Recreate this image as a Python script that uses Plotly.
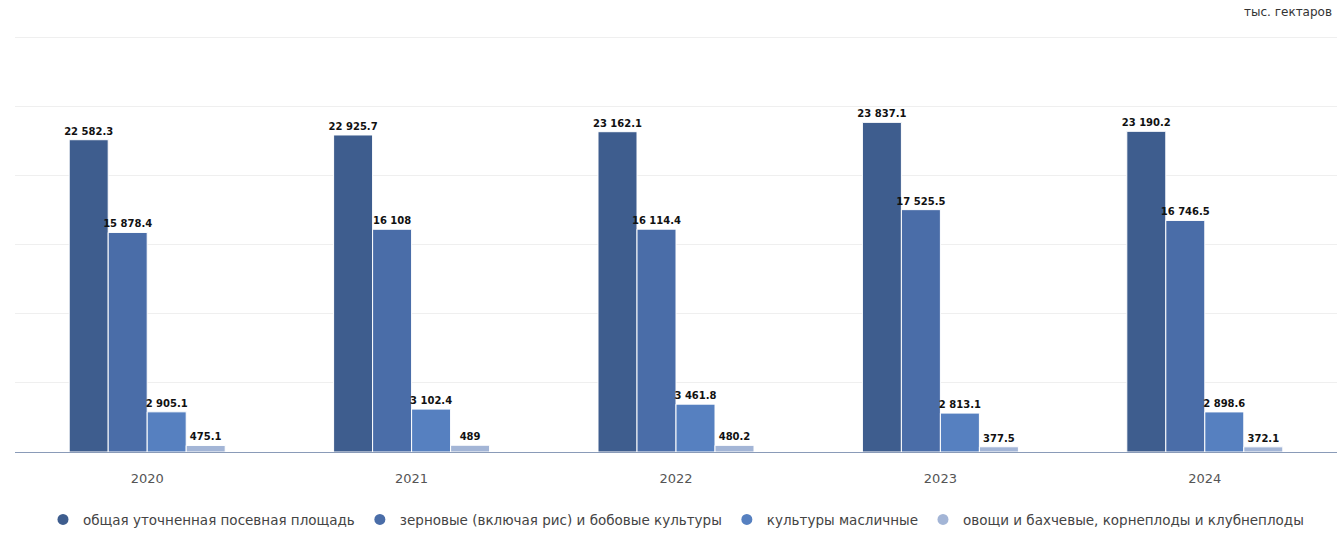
import plotly.graph_objects as go

years = ["2020", "2021", "2022", "2023", "2024"]
series_names = [
    "общая уточненная посевная площадь",
    "зерновые (включая рис) и бобовые культуры",
    "культуры масличные",
    "овощи и бахчевые, корнеплоды и клубнеплоды",
]
total_area = [22582.3, 22925.7, 23162.1, 23837.1, 23190.2]
grain = [15878.4, 16108, 16114.4, 17525.5, 16746.5]
oilseed = [2905.1, 3102.4, 3461.8, 2813.1, 2898.6]
vegetables = [475.1, 489, 480.2, 377.5, 372.1]
unit_label = "тыс. гектаров"

colors = ["#3e5d8e", "#4a6da8", "#5680c0", "#a3b5d6"]
FONT = "DejaVu Sans, Arial"


def fmt(v):
    if float(v).is_integer():
        s = f"{int(v):,}"
    else:
        s = f"{v:,.1f}"
    return s.replace(",", " ")


fig = go.Figure()
for name, vals, col in zip(series_names, [total_area, grain, oilseed, vegetables], colors):
    fig.add_trace(go.Bar(
        x=years, y=vals, name=name,
        marker=dict(color=col, line=dict(color="white", width=1)),
        text=[fmt(v) for v in vals], textposition="outside", textangle=0,
        constraintext="none",
        textfont=dict(family=FONT, size=10, color="#111111", weight="bold"),
        cliponaxis=False, showlegend=False, legendgroup=name,
    ))
    fig.add_trace(go.Scatter(
        x=[None], y=[None], mode="markers", name=name, legendgroup=name,
        marker=dict(color=col, size=11, symbol="circle"),
    ))

fig.update_layout(
    width=1342, height=533,
    paper_bgcolor="white", plot_bgcolor="white",
    margin=dict(l=15, r=5, t=33, b=81, autoexpand=False),
    barmode="group", bargap=0.41, bargroupgap=0.0,
    uniformtext=dict(minsize=10, mode="show"),
    font=dict(family=FONT, size=12, color="#444444"),
    xaxis=dict(
        showgrid=False, showline=True, linecolor="#8a9bb8", linewidth=1,
        ticks="", tickfont=dict(size=13, color="#555555"),
        ticklabelstandoff=14,
    ),
    yaxis=dict(
        range=[0, 30300], tick0=0, dtick=5000, showticklabels=False,
        showgrid=True, gridcolor="#efefef", gridwidth=1, zeroline=False,
    ),
    legend=dict(
        orientation="h", x=0.5, xanchor="center",
        yref="container", y=0.025, yanchor="middle",
        font=dict(size=13.5, color="#444444"), itemwidth=30,
        traceorder="normal",
    ),
    annotations=[dict(
        text=unit_label, xref="paper", yref="paper", x=1.0, y=1.0,
        xanchor="right", yanchor="middle", yshift=21, xshift=-3, showarrow=False,
        font=dict(size=12, color="#333333"),
    )],
)

fig.write_html("out.html")
